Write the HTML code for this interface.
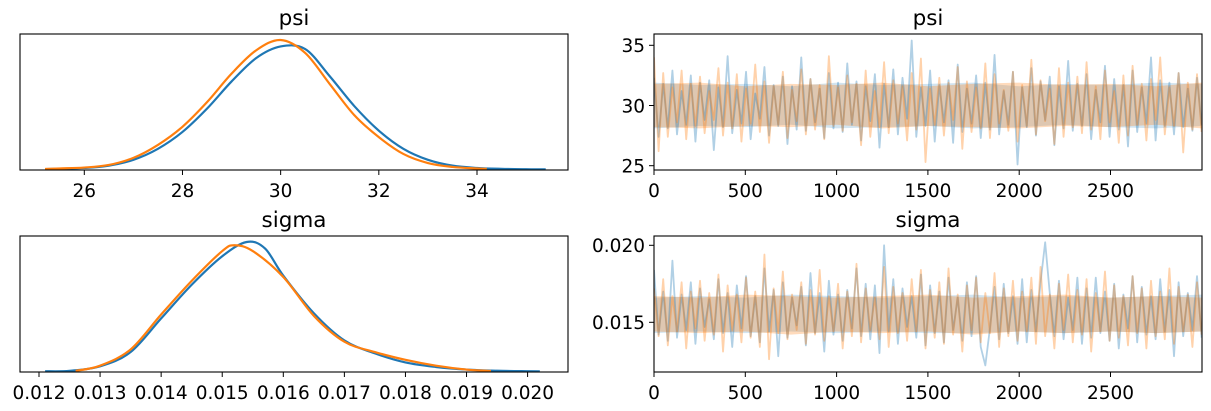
<!DOCTYPE html>
<html><head><meta charset="utf-8">
<style>
html,body{margin:0;padding:0;background:#fff;}
svg{display:block;font-family:"DejaVu Sans","Liberation Sans",sans-serif;}
</style></head>
<body>
<svg id="fig" width="1211" height="411" viewBox="0 0 1211 411"></svg>
<script>
// ---- data ----
const psiGridX = [25.2,25.5,26,26.5,27,27.5,28,28.5,29,29.5,30,30.5,31,31.5,32,32.5,33,33.5,34,34.5,35,35.4];
const psiKdeBlue = [0.003,0.006,0.012,0.03,0.075,0.16,0.29,0.47,0.68,0.86,0.95,0.93,0.72,0.49,0.30,0.16,0.075,0.03,0.012,0.005,0.002,0.001];
const psiGridXOrange = [25.2,25.5,26,26.5,27,27.5,28,28.5,29,29.5,30,30.5,31,31.5,32,32.5,33,33.5,34,34.2];
const psiKdeOrange = [0.004,0.008,0.015,0.035,0.09,0.19,0.33,0.52,0.74,0.92,1.0,0.9,0.66,0.42,0.25,0.12,0.05,0.02,0.008,0.005];
const sigGridXBlue = [0.0121,0.0125,0.013,0.0135,0.014,0.0145,0.015,0.0154,0.0157,0.016,0.0165,0.017,0.0175,0.018,0.0185,0.019,0.0195,0.020,0.0202];
const sigKdeBlue = [0.002,0.005,0.04,0.15,0.41,0.67,0.89,1.0,0.95,0.74,0.45,0.24,0.14,0.07,0.035,0.015,0.006,0.002,0.001];
const sigGridXOrange = [0.0126,0.013,0.0135,0.014,0.0145,0.015,0.0152,0.0155,0.016,0.0165,0.017,0.0175,0.018,0.0185,0.019,0.0194];
const sigKdeOrange = [0.005,0.045,0.17,0.44,0.7,0.93,0.975,0.93,0.73,0.43,0.23,0.15,0.09,0.045,0.015,0.004];

const psiTraceBlue = [32.3,27.4,31.8,28.1,32.9,27.6,31.2,28.4,32.5,27.0,31.9,28.8,32.1,26.3,31.5,28.2,34.1,27.7,31.3,28.5,32.8,27.2,31.0,28.9,33.2,27.5,31.7,28.3,32.4,26.8,31.6,28.0,34.0,27.9,32.2,28.6,31.4,27.3,32.7,28.1,
31.9,27.8,33.5,28.4,32.0,27.1,31.6,28.7,32.6,26.5,31.8,28.2,33.0,27.6,32.3,28.9,35.4,27.4,31.5,28.3,32.9,27.0,31.7,28.6,32.1,26.9,33.4,27.8,31.4,28.5,32.5,27.3,31.9,28.0,34.2,27.6,31.2,28.4,32.8,25.1,
31.5,28.2,33.1,27.5,32.0,28.8,32.4,26.7,31.6,28.1,33.7,27.9,31.8,28.3,32.6,27.2,31.3,28.6,33.3,27.4,32.2,28.0,31.7,26.6,32.9,27.8,31.5,28.5,34.0,27.1,32.1,28.3,31.9,27.6,32.7,28.2,31.4,27.9,32.3,28.4];
const psiTraceOrange = [34.0,26.2,32.7,27.4,31.5,28.6,32.9,27.2,31.8,28.3,32.4,27.7,31.2,28.8,33.1,27.5,31.9,28.1,32.6,27.0,31.4,28.5,33.4,27.8,32.0,26.9,31.6,28.4,32.8,27.3,31.3,28.7,33.0,27.6,32.2,28.0,31.7,27.2,34.1,28.3,
31.5,27.9,32.5,28.6,31.8,26.7,32.9,27.4,31.2,28.2,33.6,27.7,32.1,28.5,31.6,27.1,32.7,28.0,33.9,25.3,31.4,28.4,32.3,27.5,31.9,28.8,33.2,26.4,32.0,27.8,31.5,28.1,33.5,27.3,32.6,28.5,31.3,27.9,32.8,27.0,
31.7,28.3,33.8,27.6,32.1,28.7,31.4,26.8,33.1,27.4,31.9,28.2,32.4,27.7,33.6,28.0,31.6,27.2,32.9,28.6,31.2,26.9,32.5,27.5,33.3,28.4,31.8,27.1,32.2,28.8,34.0,27.6,31.5,28.3,32.7,26.1,31.9,28.0,32.6,27.8];
const sigTraceBlue = [0.0184,0.0142,0.0170,0.0138,0.0190,0.0140,0.0168,0.0145,0.0176,0.0136,0.0172,0.0147,0.0165,0.0139,0.0178,0.0143,0.0169,0.0134,0.0174,0.0146,0.0180,0.0141,0.0167,0.0137,0.0185,0.0144,0.0171,0.0128,0.0176,0.0140,0.0166,0.0148,0.0173,0.0135,0.0182,0.0143,0.0169,0.0131,0.0177,0.0142,
0.0168,0.0138,0.0171,0.0146,0.0185,0.0141,0.0175,0.0139,0.0174,0.0130,0.0200,0.0144,0.0178,0.0136,0.0172,0.0147,0.0167,0.0140,0.0181,0.0135,0.0174,0.0143,0.0170,0.0137,0.0179,0.0145,0.0166,0.0138,0.0176,0.0141,0.0180,0.0134,0.0122,0.0146,0.0173,0.0139,0.0175,0.0143,0.0167,0.0136,
0.0178,0.0137,0.0171,0.0144,0.0176,0.0132,0.0169,0.0141,0.0177,0.0139,0.0166,0.0145,0.0179,0.0136,0.0172,0.0140,0.0179,0.0143,0.0170,0.0138,0.0175,0.0133,0.0168,0.0146,0.0180,0.0137,0.0173,0.0142,0.0167,0.0139,0.0178,0.0144,0.0171,0.0128,0.0176,0.0141,0.0169,0.0145,0.0180,0.0140];
sigTraceBlue[85] = 0.0202;
const sigTraceOrange = [0.0172,0.0141,0.0178,0.0135,0.0167,0.0144,0.0176,0.0133,0.0170,0.0146,0.0177,0.0138,0.0169,0.0142,0.0181,0.0131,0.0174,0.0145,0.0168,0.0137,0.0179,0.0140,0.0170,0.0134,0.0194,0.0126,0.0172,0.0143,0.0183,0.0139,0.0168,0.0145,0.0176,0.0136,0.0171,0.0142,0.0184,0.0138,0.0167,0.0144,
0.0175,0.0133,0.0170,0.0141,0.0188,0.0137,0.0172,0.0145,0.0166,0.0139,0.0186,0.0134,0.0173,0.0143,0.0169,0.0138,0.0178,0.0144,0.0184,0.0133,0.0171,0.0140,0.0176,0.0136,0.0185,0.0142,0.0168,0.0131,0.0174,0.0145,0.0179,0.0137,0.0169,0.0143,0.0182,0.0134,0.0172,0.0141,0.0177,0.0138,
0.0170,0.0144,0.0179,0.0136,0.0186,0.0141,0.0168,0.0133,0.0175,0.0145,0.0181,0.0137,0.0171,0.0142,0.0178,0.0131,0.0169,0.0144,0.0183,0.0138,0.0174,0.0140,0.0167,0.0135,0.0180,0.0143,0.0172,0.0133,0.0177,0.0141,0.0170,0.0139,0.0185,0.0136,0.0173,0.0144,0.0168,0.0134,0.0176,0.0142];
const nDraws = 2999;

// dense core band of each trace (envelope, 13 points over iterations)
const psiCoreHiBlue = [31.9,31.7,31.8,31.6,31.9,31.7,31.8,31.9,31.6,31.8,31.7,31.9,31.8];
const psiCoreLoBlue = [28.1,28.3,28.2,28.4,28.1,28.2,28.3,28.1,28.2,28.4,28.2,28.1,28.3];
const psiCoreHiOrange = [31.8,31.9,31.6,31.8,31.7,31.9,31.6,31.8,31.9,31.7,31.8,31.6,31.9];
const psiCoreLoOrange = [28.2,28.1,28.3,28.2,28.4,28.1,28.3,28.2,28.1,28.3,28.2,28.4,28.1];
const sigCoreHiBlue = [0.0166,0.0167,0.0166,0.0168,0.0167,0.0166,0.0167,0.0168,0.0166,0.0167,0.0166,0.0167,0.0168];
const sigCoreLoBlue = [0.0143,0.0144,0.0143,0.0144,0.0143,0.0144,0.0143,0.0143,0.0144,0.0143,0.0144,0.0143,0.0144];
const sigCoreHiOrange = [0.0167,0.0166,0.0168,0.0167,0.0166,0.0167,0.0168,0.0166,0.0167,0.0168,0.0166,0.0167,0.0166];
const sigCoreLoOrange = [0.0144,0.0143,0.0144,0.0142,0.0144,0.0143,0.0144,0.0142,0.0144,0.0143,0.0144,0.0143,0.0144];

const psiKdeTicks = [26,28,30,32,34];
const sigKdeTicks = [0.012,0.013,0.014,0.015,0.016,0.017,0.018,0.019,0.020];
const iterTicks = [0,500,1000,1500,2000,2500];
const psiTraceTicks = [25,30,35];
const sigTraceTicks = [0.015,0.020];

// ---- drawing ----
const svg = document.getElementById('fig');
const NS = 'http://www.w3.org/2000/svg';
function mk(tag, attrs, parent){
  const e = document.createElementNS(NS, tag);
  for (const k in attrs) e.setAttribute(k, attrs[k]);
  (parent||svg).appendChild(e);
  return e;
}
function lin(d0,d1,r0,r1){return v => r0 + (v-d0)/(d1-d0)*(r1-r0);}

function panel(name, box, title, xs, ys, xTicks, xFmt, yTicks, yFmt){
  const g = mk('g', {});
  
  
  const t = mk('text', {x:(box.l+box.r)/2, y:box.t-9, 'text-anchor':'middle', 'font-size':'21.5', fill:'#000'}, g);
  t.textContent = title;
  
  
  const clip = mk('clipPath', {id:'c-'+name}, g);
  mk('rect', {x:box.l, y:box.t, width:box.r-box.l, height:box.b-box.t}, clip);
  const plot = mk('g', {'clip-path':'url(#c-'+name+')'}, g);
  xTicks.forEach(v => {
    const x = xs(v);
    if (x < box.l-1 || x > box.r+1) return;
    mk('line', {x1:x, x2:x, y1:box.b, y2:box.b+5, stroke:'#000', 'stroke-width':1}, g);
    const tl = mk('text', {x:x, y:box.b+27, 'text-anchor':'middle', 'font-size':'18.5', fill:'#000'}, g);
    tl.textContent = xFmt(v);
    
    
  });
  yTicks.forEach(v => {
    const y = ys(v);
    mk('line', {x1:box.l-5, x2:box.l, y1:y, y2:y, stroke:'#000', 'stroke-width':1}, g);
    const tl = mk('text', {x:box.l-9, y:y+6.8, 'text-anchor':'end', 'font-size':'18.5', fill:'#000'}, g);
    tl.textContent = yFmt(v);
    
    
  });
  const frame = mk('rect', {x:box.l, y:box.t, width:box.r-box.l, height:box.b-box.t, fill:'none', stroke:'#000', 'stroke-width':1.1}, g);
  
  
  return plot;
}
function smooth(parent, xsArr, ysArr, xs, ys, color, nm){
  const P = xsArr.map((x,i) => [xs(x), ys(ysArr[i])]);
  let d = 'M' + P[0][0].toFixed(2) + ',' + P[0][1].toFixed(2);
  for (let i = 0; i < P.length-1; i++){
    const p0 = P[Math.max(0,i-1)], p1 = P[i], p2 = P[i+1], p3 = P[Math.min(P.length-1,i+2)];
    const c1x = p1[0] + (p2[0]-p0[0])/6, c1y = p1[1] + (p2[1]-p0[1])/6;
    const c2x = p2[0] - (p3[0]-p1[0])/6, c2y = p2[1] - (p3[1]-p1[1])/6;
    d += ' C' + c1x.toFixed(2)+','+c1y.toFixed(2)+' '+c2x.toFixed(2)+','+c2y.toFixed(2)+' '+p2[0].toFixed(2)+','+p2[1].toFixed(2);
  }
  const p = mk('path', {d:d, fill:'none', stroke:color, 'stroke-width':2.2}, parent);
  
  
}
function line(parent, xsArr, ysArr, xs, ys, color, width, op, nm){
  const pts = xsArr.map((x,i) => xs(x).toFixed(2)+','+ys(ysArr[i]).toFixed(2)).join(' ');
  const p = mk('polyline', {points:pts, fill:'none', stroke:color, 'stroke-width':width, 'stroke-opacity':op, 'stroke-linejoin':'round'}, parent);
  
  
}
function band(parent, hi, lo, xs, ys, color, op, nm){
  const it = iters(hi);
  const top = it.map((x,i) => xs(x).toFixed(2)+','+ys(hi[i]).toFixed(2));
  const bot = it.map((x,i) => xs(x).toFixed(2)+','+ys(lo[i]).toFixed(2)).reverse();
  const p = mk('polygon', {points:top.concat(bot).join(' '), fill:color, 'fill-opacity':op}, parent);
  
  
}
function iters(arr){ return arr.map((_,i) => i*nDraws/(arr.length-1)); }
const BLUE = '#1f77b4', ORANGE = '#ff7f0e';

// psi KDE
{
  const box = {l:20, r:568, t:34, b:170};
  const xs = lin(26, 34, 84.3, 477);
  const ys = lin(0, 1, 169.5, 40);
  const p = panel('psi-kde', box, 'psi', xs, ys, psiKdeTicks, v => String(v), [], v=>v);
  smooth(p, psiGridX, psiKdeBlue, xs, ys, BLUE, 'psi-kde-chain-0');
  smooth(p, psiGridXOrange, psiKdeOrange, xs, ys, ORANGE, 'psi-kde-chain-1');
}
// sigma KDE
{
  const box = {l:20, r:568, t:236, b:372};
  const xs = lin(0.012, 0.016, 39, 283.3);
  const ys = lin(0, 1, 371.5, 242);
  const p = panel('sigma-kde', box, 'sigma', xs, ys, sigKdeTicks, v => v.toFixed(3), [], v=>v);
  smooth(p, sigGridXBlue, sigKdeBlue, xs, ys, BLUE, 'sigma-kde-chain-0');
  smooth(p, sigGridXOrange, sigKdeOrange, xs, ys, ORANGE, 'sigma-kde-chain-1');
}
// psi trace
{
  const box = {l:654, r:1202, t:34, b:170};
  const xs = lin(0, 2500, 654, 1110.5);
  const ys = lin(25, 35, 165.7, 45.3);
  const p = panel('psi-trace', box, 'psi', xs, ys, iterTicks, v => String(v), psiTraceTicks, v => String(v));
  band(p, psiCoreHiBlue, psiCoreLoBlue, xs, ys, BLUE, 0.2, 'psi-trace-core-0');
  band(p, psiCoreHiOrange, psiCoreLoOrange, xs, ys, ORANGE, 0.28, 'psi-trace-core-1');
  line(p, iters(psiTraceBlue), psiTraceBlue, xs, ys, BLUE, 1.8, 0.35, 'psi-trace-chain-0');
  line(p, iters(psiTraceOrange), psiTraceOrange, xs, ys, ORANGE, 1.8, 0.35, 'psi-trace-chain-1');
}
// sigma trace
{
  const box = {l:654, r:1202, t:236, b:372};
  const xs = lin(0, 2500, 654, 1110.5);
  const ys = lin(0.015, 0.020, 322.3, 245.3);
  const p = panel('sigma-trace', box, 'sigma', xs, ys, iterTicks, v => String(v), sigTraceTicks, v => v.toFixed(3));
  band(p, sigCoreHiBlue, sigCoreLoBlue, xs, ys, BLUE, 0.2, 'sigma-trace-core-0');
  band(p, sigCoreHiOrange, sigCoreLoOrange, xs, ys, ORANGE, 0.28, 'sigma-trace-core-1');
  line(p, iters(sigTraceBlue), sigTraceBlue, xs, ys, BLUE, 1.8, 0.35, 'sigma-trace-chain-0');
  line(p, iters(sigTraceOrange), sigTraceOrange, xs, ys, ORANGE, 1.8, 0.35, 'sigma-trace-chain-1');
}
</script>
</body></html>
